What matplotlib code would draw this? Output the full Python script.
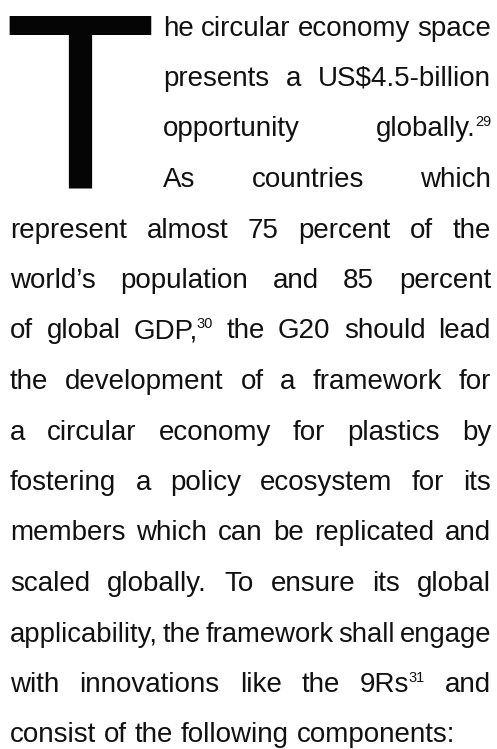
import matplotlib
matplotlib.use('Agg')
import matplotlib.pyplot as plt
import numpy as np

# ---------------- content ----------------
drop_cap = "T"
indented_lines = [
    "he circular economy space",
    "presents a US$4.5-billion",
    "opportunity globally.^29",
    "As countries which",
]
body_lines = [
    "represent almost 75 percent of the",
    "world\u2019s population and 85 percent",
    "of global GDP,^30 the G20 should lead",
    "the development of a framework for",
    "a circular economy for plastics by",
    "fostering a policy ecosystem for its",
    "members which can be replicated and",
    "scaled globally. To ensure its global",
    "applicability, the framework shall engage",
    "with innovations like the 9Rs^31 and",
]
last_line = "consist of the following components:"

# ---------------- styling ----------------
W, H, DPI = 497, 749, 100
FONT = ['Liberation Sans', 'DejaVu Sans']
TEXT_COLOR = '#111111'
BODY_PX = 27.8
SUP_PX = 14.5
SUP_RAISE = 10.0
SUP_GAP = -1.0
MIN_GAP = 5.0
LEFT, RIGHT, INDENT = 10.0, 491.0, 163.0
FIRST_BASE, PITCH = 35.5, 50.5
CAP_LEFT, CAP_TOP, CAP_BASE = 10.0, 16.0, 187.0

fig = plt.figure(figsize=(W / DPI, H / DPI), dpi=DPI)
fig.patch.set_facecolor('white')
ax = fig.add_axes([0, 0, 1, 1])
ax.set_xlim(0, W)
ax.set_ylim(H, 0)
ax.axis('off')
renderer = fig.canvas.get_renderer()


def pt(px):
    return px * 72.0 / DPI


def measure(s, size_px):
    t = ax.text(0, 0, s, fontsize=pt(size_px), family=FONT)
    w = t.get_window_extent(renderer).width
    t.remove()
    return w


def ink_box():
    fig.canvas.draw()
    arr = np.asarray(fig.canvas.buffer_rgba())[:, :, :3].mean(axis=2)
    ys, xs = np.nonzero(arr < 128)
    return xs.min(), xs.max(), ys.min(), ys.max()


# drop cap, calibrated so its ink fills the reference box
cap_px = (CAP_BASE - CAP_TOP) / 0.716
cap = ax.text(CAP_LEFT, CAP_BASE, drop_cap, fontsize=pt(cap_px), family=FONT,
              color='#050505', ha='left', va='baseline')
x0, x1, y0, y1 = ink_box()
cap_px *= (CAP_BASE - CAP_TOP + 1) / (y1 - y0 + 1)
cap.set_fontsize(pt(cap_px))
x0, x1, y0, y1 = ink_box()
cap.set_position((CAP_LEFT - (x0 - CAP_LEFT), CAP_BASE - (y1 - CAP_BASE + 1)))


def split_word(word):
    if '^' in word:
        main, sup = word.split('^')
        return main, sup
    return word, None


def word_width(word, scale):
    main, sup = split_word(word)
    w = measure(main, BODY_PX * scale)
    if sup:
        w += SUP_GAP + measure(sup, SUP_PX * scale)
    return w


def draw_word(x, y, word, scale):
    main, sup = split_word(word)
    ax.text(x, y, main, fontsize=pt(BODY_PX * scale), family=FONT,
            color=TEXT_COLOR, ha='left', va='baseline')
    if sup:
        xs = x + measure(main, BODY_PX * scale) + SUP_GAP
        ax.text(xs, y - SUP_RAISE * scale, sup, fontsize=pt(SUP_PX * scale),
                family=FONT, color=TEXT_COLOR, ha='left', va='baseline')


def draw_line(line, left, right, y, justify=True):
    words = line.split(' ')
    scale = 1.0
    widths = [word_width(w, scale) for w in words]
    avail = right - left
    n = len(words)
    if justify and n > 1:
        total = sum(widths)
        if avail - total < MIN_GAP * (n - 1):
            scale = (avail - MIN_GAP * (n - 1)) / total
            widths = [word_width(w, scale) for w in words]
            total = sum(widths)
        gap = (avail - total) / (n - 1)
    else:
        gap = measure('a a', BODY_PX) - 2 * measure('a', BODY_PX)
    x = left
    for w, wd in zip(words, widths):
        draw_word(x, y, w, scale)
        x += wd + gap


k = 0
for line in indented_lines:
    draw_line(line, INDENT, RIGHT, FIRST_BASE + PITCH * k)
    k += 1
for line in body_lines:
    draw_line(line, LEFT, RIGHT, FIRST_BASE + PITCH * k)
    k += 1
draw_line(last_line, LEFT, RIGHT, FIRST_BASE + PITCH * k, justify=False)

fig.savefig('out.png', dpi=DPI, facecolor='white')
